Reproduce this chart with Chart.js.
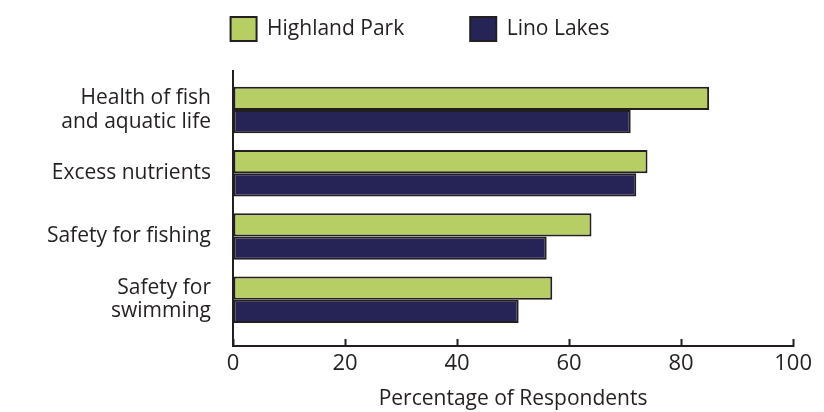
<!DOCTYPE html>
<html>
<head>
<meta charset="utf-8">
<script src="https://cdn.jsdelivr.net/npm/chart.js@4/dist/chart.umd.min.js"></script>
<style>
  html, body { margin: 0; padding: 0; background: #fff; }
</style>
</head>
<body>
<canvas id="chart-0" width="824" height="412"></canvas>
<script>
// values (percent of respondents)
var categories = [['Health of fish', 'and aquatic life'], 'Excess nutrients', 'Safety for fishing', ['Safety for', 'swimming']];
var highlandPark = [85, 74, 64, 57];
var linoLakes = [71, 72, 56, 51];
var xTicks = [0, 20, 40, 60, 80, 100];

var ink = '#231f20';
var family = "'Open Sans', sans-serif";

// bars sit on a linear y axis (index positions) so the top/bottom gaps can be tuned
function toPoints(values) {
  return values.map(function(v, i) { return { x: v, y: i }; });
}

var chart0 = new Chart(document.getElementById('chart-0'), {
  type: 'bar',
  data: {
    datasets: [
      { label: 'Highland Park', data: toPoints(highlandPark), backgroundColor: '#b6ce63', borderColor: ink, borderWidth: 2, borderSkipped: false },
      { label: 'Lino Lakes', data: toPoints(linoLakes), backgroundColor: '#262357', borderColor: ink, borderWidth: 2, borderSkipped: false }
    ]
  },
  options: {
    indexAxis: 'y',
    responsive: false,
    animation: false,
    categoryPercentage: 0.736,
    barPercentage: 1,
    layout: { padding: { top: -49, left: 40, right: 24, bottom: 0 } },
    plugins: {
      tooltip: { enabled: false },
      legend: {
        position: 'top',
        labels: { color: ink, font: { family: family, size: 21 }, boxWidth: 26, boxHeight: 24, padding: 66 }
      },
      // empty spacer between legend and plot area
      title: { display: true, text: '', weight: 500, font: { size: 20, lineHeight: 1 }, padding: 0 }
    },
    scales: {
      x: {
        type: 'linear',
        min: 0,
        max: 100,
        afterBuildTicks: function(axis) { axis.ticks = xTicks.map(function(v) { return { value: v }; }); },
        afterFit: function(axis) { axis.height = 66; },
        grid: { display: true, drawOnChartArea: false, drawTicks: true, tickLength: -7, tickWidth: 2, tickColor: ink },
        border: { display: true, color: ink, width: 2 },
        ticks: { color: ink, font: { family: family, size: 22 }, padding: 12 },
        title: { display: true, text: 'Percentage of Respondents', color: ink, font: { family: family, size: 21 }, padding: 0 }
      },
      y: {
        type: 'linear',
        reverse: true,
        offset: false,
        min: -0.617,
        max: 3.733,
        afterBuildTicks: function(axis) { axis.ticks = categories.map(function(c, i) { return { value: i }; }); },
        afterFit: function(axis) { axis.width = 193; },
        grid: { display: false, drawTicks: false },
        border: { display: true, color: ink, width: 2 },
        ticks: {
          color: ink,
          font: { family: family, size: 21, lineHeight: 1.1 },
          padding: 22,
          callback: function(v) { return categories[v]; }
        }
      }
    }
  }
});
</script>
</body>
</html>
